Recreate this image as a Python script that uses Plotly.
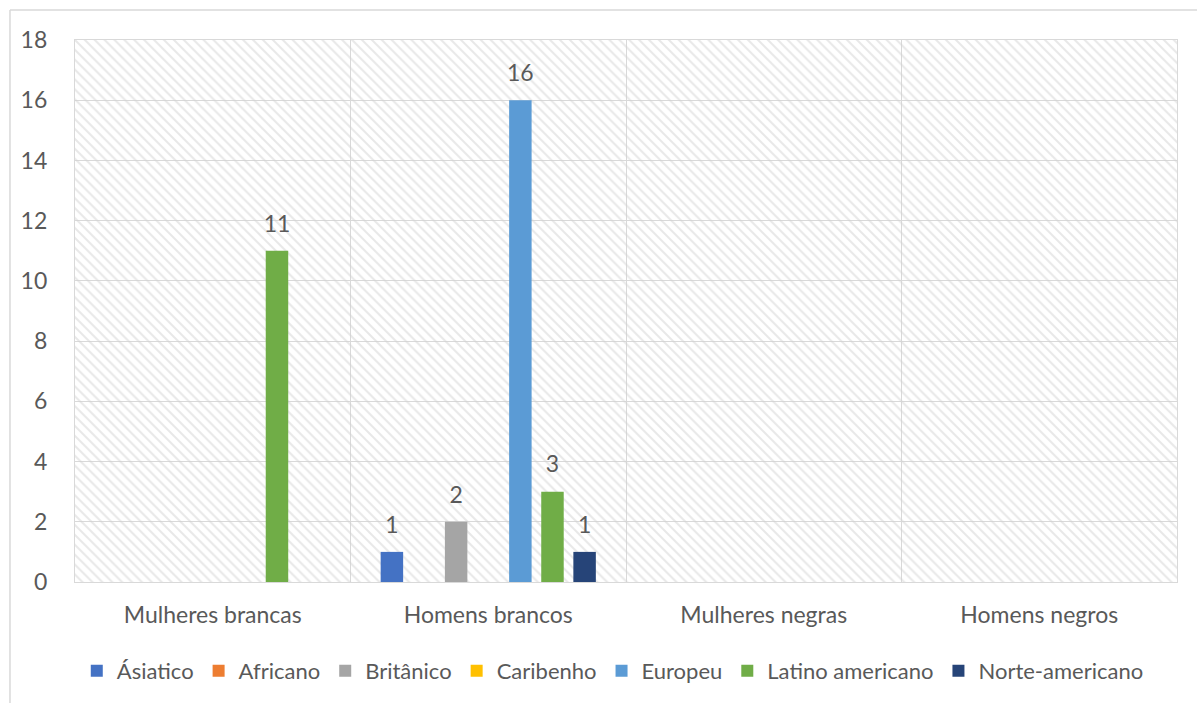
import plotly.graph_objects as go

categories = ["Mulheres brancas", "Homens brancos", "Mulheres negras", "Homens negros"]

series_names = ["Ásiatico", "Africano", "Britânico", "Caribenho",
                "Europeu", "Latino americano", "Norte-americano"]
series_colors = ["#4472C4", "#ED7D31", "#A5A5A5", "#FFC000",
                 "#5B9BD5", "#70AD47", "#264478"]

asiatico = [None, 1, None, None]
africano = [None, None, None, None]
britanico = [None, 2, None, None]
caribenho = [None, None, None, None]
europeu = [None, 16, None, None]
latino_americano = [11, 3, None, None]
norte_americano = [None, 1, None, None]

series_values = [asiatico, africano, britanico, caribenho,
                 europeu, latino_americano, norte_americano]

y_max = 18
y_ticks = list(range(0, 19, 2))

TEXT = "#595959"
GRID = "#d9d9d9"
FONT = "Lato"
FS = 23
GAP = 0.184

fig = go.Figure()

# hatched plot-area background on the hidden base axis
fig.add_trace(go.Bar(
    x=[0.5], y=[y_max], width=[1], xaxis="x", yaxis="y",
    marker=dict(color="rgba(0,0,0,0)", line=dict(width=0),
                pattern=dict(shape="\\", fgcolor="#d2d2d2", size=7, solidity=0.3)),
    showlegend=False, hoverinfo="skip",
))

for name, color, vals in zip(series_names, series_colors, series_values):
    fig.add_trace(go.Bar(
        name=name, x=categories, y=vals, xaxis="x2", yaxis="y",
        marker=dict(color=color, line=dict(width=0)),
    ))

# value labels above the bars
for name, vals in zip(series_names, series_values):
    fig.add_trace(go.Scatter(
        x=categories, y=vals, xaxis="x2", yaxis="y",
        mode="markers+text", text=[("" if v is None else str(v)) for v in vals],
        textposition="top center",
        textfont=dict(family=FONT, size=FS, color=TEXT),
        marker=dict(size=20, color="rgba(0,0,0,0)"),
        showlegend=False, hoverinfo="skip", cliponaxis=False,
    ))

fig.update_layout(
    width=1197, height=703,
    margin=dict(l=75, r=20, t=40, b=120),
    paper_bgcolor="white", plot_bgcolor="white",
    font=dict(family=FONT, size=FS, color=TEXT),
    barmode="group", bargap=GAP, bargroupgap=0.30,
    scattermode="group", scattergap=GAP,
    xaxis=dict(range=[0, 1], visible=False, fixedrange=True),
    xaxis2=dict(
        overlaying="x", anchor="y", side="bottom", type="category",
        tickson="boundaries", showgrid=True, gridcolor=GRID, gridwidth=1.3,
        showline=True, linecolor=GRID, linewidth=1.3, mirror=True,
        ticks="", ticklabelstandoff=12,
        tickfont=dict(family=FONT, size=FS, color=TEXT),
    ),
    yaxis=dict(
        range=[0, y_max], tickvals=y_ticks, showgrid=True,
        gridcolor=GRID, gridwidth=1.3, zeroline=False,
        showline=True, linecolor=GRID, linewidth=1.3, mirror=True,
        ticks="", ticklabelstandoff=22,
        tickfont=dict(family=FONT, size=FS, color=TEXT),
    ),
    legend=dict(
        orientation="h", x=0.488, xanchor="center", y=-0.162, yanchor="middle",
        font=dict(family=FONT, size=22, color=TEXT), bgcolor="rgba(0,0,0,0)",
    ),
    shapes=[
        dict(type="line", xref="paper", yref="paper", x0=-0.059, x1=-0.059,
             y0=-0.25, y1=1.0552, line=dict(color=GRID, width=1.5)),
        dict(type="line", xref="paper", yref="paper", x0=-0.059, x1=1.05,
             y0=1.0552, y1=1.0552, line=dict(color=GRID, width=1.5)),
    ],
)

fig.write_html("out.html")
